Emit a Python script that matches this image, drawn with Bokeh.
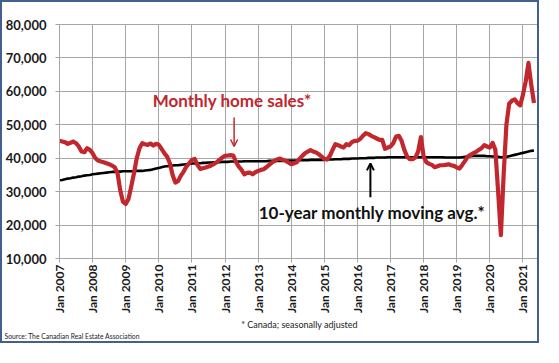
import math
from bokeh.plotting import figure
from bokeh.models import (Range1d, FixedTicker, NumeralTickFormatter, Label, Title,
                          Arrow, OpenHead, ColumnDataSource)
from bokeh.embed import file_html
from bokeh.resources import INLINE

# Monthly home sales (seasonally adjusted), Jan 2007 - May 2021
sales_2007 = [45200, 45000, 44800, 44300, 44600, 45000, 44500, 43500, 42000, 41800, 43000, 42500]
sales_2008 = [41500, 40000, 39300, 39000, 38800, 38500, 38200, 37800, 37300, 35700, 30500, 27000]
sales_2009 = [26300, 27800, 31500, 35500, 40000, 43000, 44500, 44200, 44000, 44400, 43800, 44300]
sales_2010 = [44000, 42800, 41500, 40500, 38500, 35000, 32700, 33200, 34800, 36000, 37500, 38500]
sales_2011 = [39500, 39800, 38000, 36800, 37000, 37200, 37500, 37800, 38300, 38800, 39500, 40200]
sales_2012 = [40700, 40800, 40900, 40800, 38800, 37500, 36500, 35200, 35600, 35700, 35200, 35800]
sales_2013 = [36200, 36500, 36700, 37300, 38000, 38700, 39200, 39700, 39900, 39500, 39200, 38700]
sales_2014 = [38200, 38500, 38800, 39800, 40700, 41500, 42000, 42400, 42000, 41700, 41200, 40500]
sales_2015 = [39800, 39600, 40700, 42500, 44200, 43900, 43500, 43200, 44200, 43900, 44800, 45200]
sales_2016 = [45200, 45800, 46700, 47500, 47200, 46700, 46300, 45900, 45500, 45500, 42800, 43200]
sales_2017 = [43500, 44500, 46500, 46700, 45200, 42500, 40500, 39700, 39700, 40200, 42000, 46300]
sales_2018 = [40500, 38800, 38300, 38000, 37300, 37600, 37900, 37900, 38000, 38200, 37900, 37700]
sales_2019 = [37200, 36900, 38000, 39200, 40500, 41000, 41500, 41900, 42500, 43000, 43900, 43500]
sales_2020 = [43200, 44600, 42500, 30000, 17000, 35000, 50000, 56300, 57200, 57600, 56500, 55800]
sales_2021 = [59000, 63000, 68500, 62000, 56500]

# 10-year monthly moving average
avg_2007 = [33400, 33500, 33700, 33900, 34000, 34200, 34300, 34500, 34600, 34800, 34900, 35000]
avg_2008 = [35200, 35300, 35400, 35500, 35600, 35700, 35800, 35900, 35900, 36000, 36000, 36100]
avg_2009 = [36100, 36100, 36100, 36100, 36200, 36200, 36200, 36300, 36400, 36500, 36700, 36900]
avg_2010 = [37100, 37300, 37500, 37600, 37700, 37800, 37900, 37900, 38000, 38100, 38200, 38300]
avg_2011 = [38400, 38400, 38500, 38500, 38600, 38600, 38700, 38700, 38800, 38800, 38800, 38900]
avg_2012 = [38900, 38900, 39000, 39000, 39000, 39000, 39000, 39100, 39100, 39100, 39100, 39100]
avg_2013 = [39100, 39100, 39100, 39100, 39200, 39200, 39200, 39200, 39200, 39200, 39300, 39300]
avg_2014 = [39300, 39300, 39300, 39400, 39400, 39400, 39400, 39500, 39500, 39500, 39500, 39500]
avg_2015 = [39500, 39600, 39600, 39600, 39700, 39700, 39700, 39800, 39800, 39800, 39900, 39900]
avg_2016 = [39900, 40000, 40000, 40000, 40100, 40100, 40100, 40200, 40200, 40200, 40200, 40300]
avg_2017 = [40300, 40300, 40300, 40300, 40300, 40300, 40300, 40300, 40300, 40300, 40300, 40300]
avg_2018 = [40300, 40300, 40300, 40300, 40300, 40300, 40300, 40300, 40200, 40200, 40200, 40200]
avg_2019 = [40200, 40200, 40300, 40400, 40500, 40600, 40700, 40700, 40700, 40700, 40700, 40600]
avg_2020 = [40600, 40500, 40500, 40400, 40300, 40300, 40400, 40600, 40800, 41000, 41200, 41400]
avg_2021 = [41600, 41800, 42000, 42200, 42300]

tick_labels = ["Jan 2007", "Jan 2008", "Jan 2009", "Jan 2010", "Jan 2011", "Jan 2012",
               "Jan 2013", "Jan 2014", "Jan 2015", "Jan 2016", "Jan 2017", "Jan 2018",
               "Jan 2019", "Jan 2020", "Jan 2021"]
y_ticks = [10000, 20000, 30000, 40000, 50000, 60000, 70000, 80000]

sales = (sales_2007 + sales_2008 + sales_2009 + sales_2010 + sales_2011 + sales_2012 +
         sales_2013 + sales_2014 + sales_2015 + sales_2016 + sales_2017 + sales_2018 +
         sales_2019 + sales_2020 + sales_2021)
avg10 = (avg_2007 + avg_2008 + avg_2009 + avg_2010 + avg_2011 + avg_2012 + avg_2013 +
         avg_2014 + avg_2015 + avg_2016 + avg_2017 + avg_2018 + avg_2019 + avg_2020 + avg_2021)
months = list(range(len(sales)))
src = ColumnDataSource(dict(m=months, sales=sales, avg=avg10))

RED = "#C1272D"
GRID = "#A6A6A6"
FONT = "Lato"

p = figure(width=539, height=343, x_range=Range1d(0, 174), y_range=Range1d(10000, 80000),
           output_backend="svg", toolbar_location=None,
           min_border_left=57, min_border_right=2, min_border_top=22, min_border_bottom=87)
p.styles = {"border": "2px solid #41608F"}
p.background_fill_color = "white"
p.border_fill_color = "white"
p.outline_line_color = GRID
p.outline_line_width = 1

p.xaxis.ticker = FixedTicker(ticks=[12 * i for i in range(len(tick_labels))])
p.xaxis.major_label_overrides = {12 * i: lab for i, lab in enumerate(tick_labels)}
p.xaxis.major_label_orientation = math.pi / 2
p.yaxis.ticker = FixedTicker(ticks=y_ticks)
p.yaxis.formatter = NumeralTickFormatter(format="0,0")
for ax in (p.xaxis, p.yaxis):
    ax.axis_line_color = GRID
    ax.major_tick_line_color = GRID
    ax.major_tick_out = 4
    ax.major_tick_in = 0
    ax.minor_tick_line_color = None
    ax.major_label_text_font = FONT
    ax.major_label_text_font_style = "bold"
    ax.major_label_text_color = "#1a1a1a"
p.xaxis.major_label_text_font_size = "12px"
p.yaxis.major_label_text_font_size = "13px"
p.xaxis.major_label_standoff = 2
p.yaxis.major_label_standoff = 9

p.grid.grid_line_color = GRID
p.grid.grid_line_width = 1
p.xgrid.ticker = p.xaxis.ticker
p.ygrid.ticker = p.yaxis.ticker

p.line("m", "avg", source=src, line_color="black", line_width=2.6)
p.line("m", "sales", source=src, line_color=RED, line_width=4.2, line_join="round")

p.add_layout(Label(x=62.6, y=57250, text="Monthly home sales*", text_font=FONT,
                   text_font_style="bold", text_font_size="17px", text_color=RED,
                   text_align="center", text_baseline="middle"))
p.add_layout(Label(x=113.3, y=23858, text="10-year monthly moving avg.*", text_font=FONT,
                   text_font_style="bold", text_font_size="17px", text_color="#111111",
                   text_align="center", text_baseline="middle"))
p.add_layout(Arrow(x_start=63.3, y_start=52200, x_end=63.3, y_end=43500,
                   line_color=RED, line_width=1.5,
                   end=OpenHead(size=7, line_color=RED, line_width=1.5)))
p.add_layout(Arrow(x_start=112.7, y_start=28330, x_end=112.7, y_end=38470,
                   line_color="black", line_width=2,
                   end=OpenHead(size=7, line_color="black", line_width=2)))

note = Title(text="* Canada; seasonally adjusted", align="center", offset=-13,
             standoff=0, text_font=FONT, text_font_size="9px",
             text_font_style="normal", text_color="#222222")
source_note = Title(text="Source: The Canadian Real Estate Association", align="left",
                    offset=-55, standoff=0, text_font=FONT, text_font_size="6.8px",
                    text_font_style="normal", text_color="#222222")
p.add_layout(note, "below")
p.add_layout(source_note, "below")

open("out.html", "w").write(file_html(p, INLINE))
